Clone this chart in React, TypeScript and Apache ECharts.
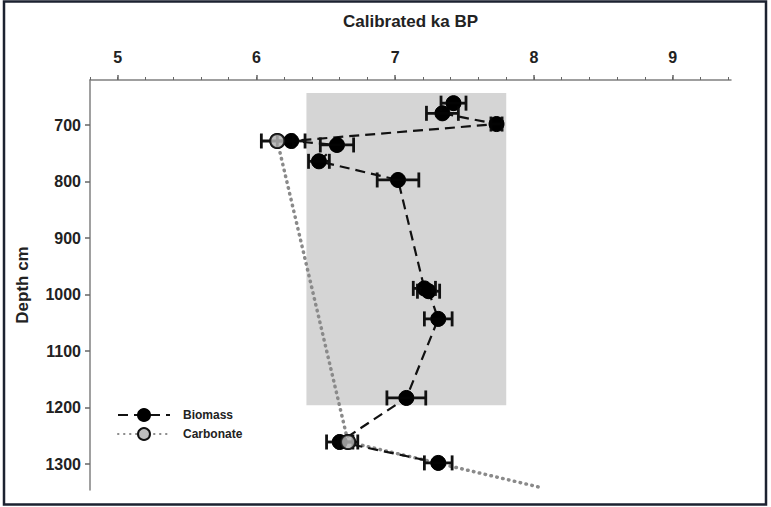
import React, { useEffect, useRef } from 'react';
import * as echarts from 'echarts';

// Biomass dates (ka BP), depths (cm) and 1-sigma half widths (ka)
const depthBiomass = [661, 679, 698, 728, 735, 764, 797, 989, 994, 1043, 1183, 1261, 1298];
const ageBiomass = [7.42, 7.34, 7.73, 6.25, 6.58, 6.45, 7.02, 7.21, 7.24, 7.31, 7.08, 6.6, 7.31];
const errBiomass = [0.09, 0.115, 0.04, 0.1, 0.12, 0.075, 0.15, 0.08, 0.08, 0.1, 0.14, 0.095, 0.1];

// Carbonate dates
const depthCarbonate = [728, 1261, 1341];
const ageCarbonate = [6.15, 6.66, 8.04];
const errCarbonate = [0.115, 0.07, 0];
const markerCarbonate = [true, true, false];

// Axis ticks
const xTickLabels = [5, 6, 7, 8, 9];
const xMinorTicks = [4.8, 5.0, 5.2, 5.4, 5.6, 5.8, 6.0, 6.2, 6.4, 6.6, 6.8, 7.0, 7.2, 7.4, 7.6, 7.8, 8.0, 8.2, 8.4, 8.6, 8.8, 9.0, 9.2, 9.4];
const yTickLabels = [700, 800, 900, 1000, 1100, 1200, 1300];

// Shaded interval
const shadeAge = [6.36, 7.8];
const shadeDepth = [643, 1196];

const TXT = '#222';
const FONT = '"Liberation Sans", Arial, sans-serif';

export default function App() {
  const ref = useRef<HTMLDivElement>(null);
  useEffect(() => {
    if (!ref.current) return;
    const chart = echarts.init(ref.current, null, { renderer: 'svg' });

    const biomassData = ageBiomass.map((a, i) => [a, depthBiomass[i]]);
    const carbonateData = ageCarbonate.map((a, i) =>
      markerCarbonate[i] ? [a, depthCarbonate[i]] : { value: [a, depthCarbonate[i]], symbol: 'none' }
    );
    const errData = [
      ...ageBiomass.map((a, i) => [a - errBiomass[i], a + errBiomass[i], depthBiomass[i]]),
      ...ageCarbonate
        .map((a, i) => (markerCarbonate[i] ? [a - errCarbonate[i], a + errCarbonate[i], depthCarbonate[i]] : null))
        .filter((d) => d !== null),
    ];

    const errStyle = { stroke: '#111', lineWidth: 2.8 };
    const option: any = {
      animation: false,
      textStyle: { fontFamily: FONT },
      graphic: [
        {
          type: 'rect',
          shape: { x: 4, y: 1.5, width: 762, height: 503 },
          style: { fill: 'none', stroke: '#1c2230', lineWidth: 2.5 },
          silent: true,
        },
      ],
      grid: { left: 90, top: 80, right: 40, bottom: 17, containLabel: false },
      legend: {
        orient: 'vertical',
        left: 112,
        top: 403,
        itemWidth: 52,
        itemHeight: 15,
        itemGap: 5,
        data: ['Biomass', 'Carbonate'],
        textStyle: { fontFamily: FONT, fontWeight: 'bold', fontSize: 12, color: TXT, padding: [0, 0, 0, 8] },
      },
      xAxis: [
        {
          type: 'value',
          position: 'top',
          min: 4.8,
          max: 9.42,
          name: 'Calibrated ka BP',
          nameLocation: 'middle',
          nameGap: 50,
          nameTextStyle: { fontFamily: FONT, fontWeight: 'bold', fontSize: 17, color: TXT },
          axisLine: { show: true, lineStyle: { color: '#808080', width: 1.5 } },
          axisTick: { show: true, customValues: xTickLabels, length: 5, lineStyle: { color: '#666', width: 1.5 } },
          axisLabel: { customValues: xTickLabels, fontFamily: FONT, fontWeight: 'bold', fontSize: 16, color: TXT, margin: 15 },
          splitLine: { show: false },
        },
        {
          type: 'value',
          position: 'top',
          min: 4.8,
          max: 9.42,
          axisLine: { show: false },
          axisTick: { show: true, customValues: xMinorTicks, length: 3, lineStyle: { color: '#666', width: 1 } },
          axisLabel: { show: false },
          splitLine: { show: false },
        },
      ],
      yAxis: {
        type: 'value',
        inverse: true,
        min: 620,
        max: 1346,
        name: 'Depth cm',
        nameLocation: 'middle',
        nameGap: 59,
        nameRotate: 90,
        nameTextStyle: { fontFamily: FONT, fontWeight: 'bold', fontSize: 17, color: TXT },
        axisLine: { show: true, lineStyle: { color: '#808080', width: 1.5 } },
        axisTick: { show: true, customValues: yTickLabels, length: 5, lineStyle: { color: '#666', width: 1.5 } },
        axisLabel: {
          customValues: yTickLabels,
          formatter: (v: number) => String(v),
          fontFamily: FONT,
          fontWeight: 'bold',
          fontSize: 16,
          color: TXT,
          margin: 9,
        },
        splitLine: { show: false },
      },
      series: [
        {
          name: 'shade',
          type: 'line',
          data: [],
          z: 1,
          silent: true,
          markArea: {
            silent: true,
            itemStyle: { color: '#d5d5d5' },
            data: [[{ coord: [shadeAge[0], shadeDepth[0]] }, { coord: [shadeAge[1], shadeDepth[1]] }]],
          },
        },
        {
          name: 'Carbonate',
          type: 'line',
          data: carbonateData,
          z: 2,
          symbol: 'circle',
          symbolSize: 14,
          showSymbol: true,
          lineStyle: { color: '#8a8a8a', width: 3.5, type: [0.5, 5.5], cap: 'round' },
          itemStyle: { color: '#bdbdbd', borderColor: '#111', borderWidth: 2 },
        },
        {
          name: 'Biomass',
          type: 'line',
          data: biomassData,
          z: 3,
          symbol: 'circle',
          symbolSize: 15,
          lineStyle: { color: '#111', width: 2.2, type: [10, 6] },
          itemStyle: { color: '#000', borderColor: '#000', borderWidth: 1 },
        },
        {
          name: 'err',
          type: 'custom',
          z: 4,
          silent: true,
          data: errData,
          encode: { x: [0, 1], y: 2 },
          renderItem: (params: any, api: any) => {
            const lo = api.coord([api.value(0), api.value(2)]);
            const hi = api.coord([api.value(1), api.value(2)]);
            const h = 7.5;
            return {
              type: 'group',
              children: [
                { type: 'line', shape: { x1: lo[0], y1: lo[1], x2: hi[0], y2: hi[1] }, style: errStyle },
                { type: 'line', shape: { x1: lo[0], y1: lo[1] - h, x2: lo[0], y2: lo[1] + h }, style: errStyle },
                { type: 'line', shape: { x1: hi[0], y1: hi[1] - h, x2: hi[0], y2: hi[1] + h }, style: errStyle },
              ],
            };
          },
        },
        {
          name: 'BiomassTop',
          type: 'scatter',
          data: biomassData,
          z: 5,
          symbol: 'circle',
          symbolSize: 15,
          itemStyle: { color: '#000' },
        },
        {
          name: 'CarbonateTop',
          type: 'scatter',
          data: carbonateData.filter((_, i) => markerCarbonate[i]),
          z: 6,
          symbol: 'circle',
          symbolSize: 14,
          itemStyle: { color: '#bdbdbd', borderColor: '#111', borderWidth: 2 },
        },
      ],
    };
    chart.setOption(option);
    return () => chart.dispose();
  }, []);
  return (
    <div
      ref={ref}
      style={{ position: 'absolute', left: 0, top: 0, width: 771, height: 507, background: '#fff' }}
    />
  );
}
